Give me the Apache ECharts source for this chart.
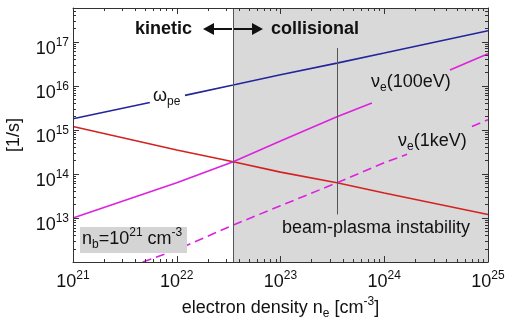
<!DOCTYPE html>
<html><head><meta charset="utf-8">
<script src="https://cdn.jsdelivr.net/npm/echarts@6/dist/echarts.min.js"></script>
<style>html,body{margin:0;padding:0;background:#fff}#c{width:507px;height:321px}</style>
</head><body><div id="c"></div>
<script>
// ---- data ----
const xTicks = [1e21, 1e22, 1e23, 1e24, 1e25];
const yTicks = [1e13, 1e14, 1e15, 1e16, 1e17];
// omega_pe (with a gap where its label sits)
const omegaN   = [1e21, 5.5e21, 8e21, 1.2e22, 3.5e22, 1e23, 3.5e23, 1e24, 1e25];
const omegaVal = [1.8e15, 4.2e15, '-', 6.1e15, 1.05e16, 1.8e16, 3.3e16, 5.6e16, 1.8e17];
// beam-plasma instability growth rate
const instN   = [1e21, 1e22, 3.5e22, 1e23, 3.5e23, 1e24, 1e25];
const instVal = [1.2e15, 3.5e14, 1.9e14, 1.1e14, 6.3e13, 3.7e13, 1.2e13];
// nu_e(100 eV)
const nu100N   = [1e21, 1e22, 3.5e22, 1e23, 3.5e23, 7.6e23, 2e24, 4.3e24, 1e25];
const nu100Val = [1.0e13, 6.3e13, 1.9e14, 5.6e14, 2.0e15, 4.1e15, '-', 2.3e16, 5.4e16];
// nu_e(1 keV)
const nu1kN   = [4.7e21, 1e22, 3.5e22, 1e23, 3.5e23, 1e24, 1.66e24, 3e24, 7.0e24, 1e25];
const nu1kVal = [1.0e12, 1.9e12, 6.9e12, 1.9e13, 6.3e13, 1.8e14, 2.8e14, '-', 1.2e15, 1.7e15];
// regime boundary and instability marker
const collisionalFrom = 3.5e22;
const instabilityN = 3.5e23;
const instabilityRange = [1.2e13, 7.3e16];
const xRange = [1e21, 1e25];
const yRange = [1e12, 5.9e17];

const pairs = (xs, ys) => xs.map((x, i) => [x, ys[i]]);
const FONT = 'Liberation Sans, Arial, sans-serif';
const isTick = (v, list) => list.some(t => Math.abs(Math.log10(v) - Math.log10(t)) < 1e-6);
const richSup = {
  base: {fontSize: 18, fontFamily: FONT, color: '#111'},
  sup: {fontSize: 12, fontFamily: FONT, color: '#111', padding: [0, 0, 12, 0]},
  sub: {fontSize: 12, fontFamily: FONT, color: '#111', padding: [12, 0, 0, 0]}
};
const tickLabel = list => v => isTick(v, list) ? '{base|10}{sup|' + Math.round(Math.log10(v)) + '}' : '';

const chart = echarts.init(document.getElementById('c'), null, {renderer: 'canvas'});
const axisCommon = {
  type: 'log', logBase: 10, z: 10,
  axisLine: {show: true, lineStyle: {color: '#333', width: 1}},
  axisTick: {show: true, inside: true, length: 6, lineStyle: {color: '#333'}},
  minorTick: {show: true, splitNumber: 9, length: 3, lineStyle: {color: '#333'}},
  splitLine: {show: false}
};
const option = {
  animation: false,
  grid: {left: 73, right: 19, top: 8, bottom: 59, containLabel: false, outerBoundsMode: 'none'},
  xAxis: [
    Object.assign({}, axisCommon, {
      position: 'bottom', min: xRange[0], max: xRange[1],
      axisLabel: {formatter: tickLabel(xTicks), rich: richSup, margin: 8},
      name: '{base|electron density n}{sub|e}{base| [cm}{sup|-3}{base|]}',
      nameLocation: 'middle', nameGap: 33,
      nameTextStyle: {rich: richSup}
    }),
    Object.assign({}, axisCommon, {
      position: 'top', min: xRange[0], max: xRange[1], axisLabel: {show: false}
    })
  ],
  yAxis: [
    Object.assign({}, axisCommon, {
      position: 'left', min: yRange[0], max: yRange[1],
      axisLabel: {formatter: tickLabel(yTicks), rich: richSup, margin: 4, padding: [14, 0, 0, 0]},
      name: '[1/s]', nameLocation: 'middle', nameGap: 50, nameRotate: 90,
      nameTextStyle: {fontSize: 18, fontFamily: FONT, color: '#111'}
    }),
    Object.assign({}, axisCommon, {
      position: 'right', min: yRange[0], max: yRange[1], axisLabel: {show: false}
    })
  ],
  series: [
    {
      type: 'line', data: [], z: 1, silent: true,
      markArea: {silent: true, itemStyle: {color: '#d9d9d9'},
        data: [[{xAxis: collisionalFrom}, {xAxis: xRange[1]}]]},
      markLine: {silent: true, symbol: 'none', label: {show: false},
        lineStyle: {color: '#555', width: 1, type: 'solid'},
        data: [
          {xAxis: collisionalFrom},
          [{coord: [instabilityN, instabilityRange[1]]}, {coord: [instabilityN, instabilityRange[0]]}]
        ]}
    },
    {type: 'line', name: 'omega_pe', data: pairs(omegaN, omegaVal), showSymbol: false, z: 3,
     lineStyle: {color: '#24249c', width: 1.6}},
    {type: 'line', name: 'instability', data: pairs(instN, instVal), showSymbol: false, z: 3,
     lineStyle: {color: '#d42222', width: 1.6}},
    {type: 'line', name: 'nu100', data: pairs(nu100N, nu100Val), showSymbol: false, z: 3,
     lineStyle: {color: '#dd22dd', width: 1.6}},
    {type: 'line', name: 'nu1k', data: pairs(nu1kN, nu1kVal), showSymbol: false, z: 3,
     lineStyle: {color: '#dd22dd', width: 1.6, type: [9, 5]}}
  ],
  graphic: [
    {type: 'text', left: 135, top: 20, z: 20,
     style: {text: 'kinetic', font: 'bold 18px ' + FONT, fill: '#111'}},
    {type: 'text', left: 271, top: 20, z: 20,
     style: {text: 'collisional', font: 'bold 18px ' + FONT, fill: '#111'}},
    // arrows
    {type: 'line', z: 20, shape: {x1: 210, y1: 29, x2: 232, y2: 29}, style: {stroke: '#111', lineWidth: 2}},
    {type: 'polygon', z: 20, shape: {points: [[203, 29], [214, 23], [214, 35]]}, style: {fill: '#111'}},
    {type: 'line', z: 20, shape: {x1: 234, y1: 29, x2: 255, y2: 29}, style: {stroke: '#111', lineWidth: 2}},
    {type: 'polygon', z: 20, shape: {points: [[263, 29], [252, 23], [252, 35]]}, style: {fill: '#111'}},
    {type: 'text', left: 153, top: 87, z: 20,
     style: {text: 'ω{sub|pe}', font: '18px ' + FONT, fill: '#111', rich: richSup}},
    {type: 'text', left: 371, top: 73, z: 20,
     style: {text: 'ν{sub|e}{base|(100eV)}', font: '18px ' + FONT, fill: '#111', rich: richSup}},
    {type: 'text', left: 398, top: 132, z: 20,
     style: {text: 'ν{sub|e}{base|(1keV)}', font: '18px ' + FONT, fill: '#111', rich: richSup}},
    {type: 'text', left: 282, top: 219, z: 20,
     style: {text: 'beam-plasma instability', font: '18px ' + FONT, fill: '#111'}},
    {type: 'rect', z: 19, shape: {x: 80, y: 227, width: 107, height: 26}, style: {fill: '#d4d4d4'}},
    {type: 'text', left: 82, top: 227, z: 20,
     style: {text: 'n{sub|b}{base|=10}{sup|21}{base| cm}{sup|-3}', font: '18px ' + FONT, fill: '#111', rich: richSup}}
  ]
};
chart.setOption(option);
</script></body></html>
